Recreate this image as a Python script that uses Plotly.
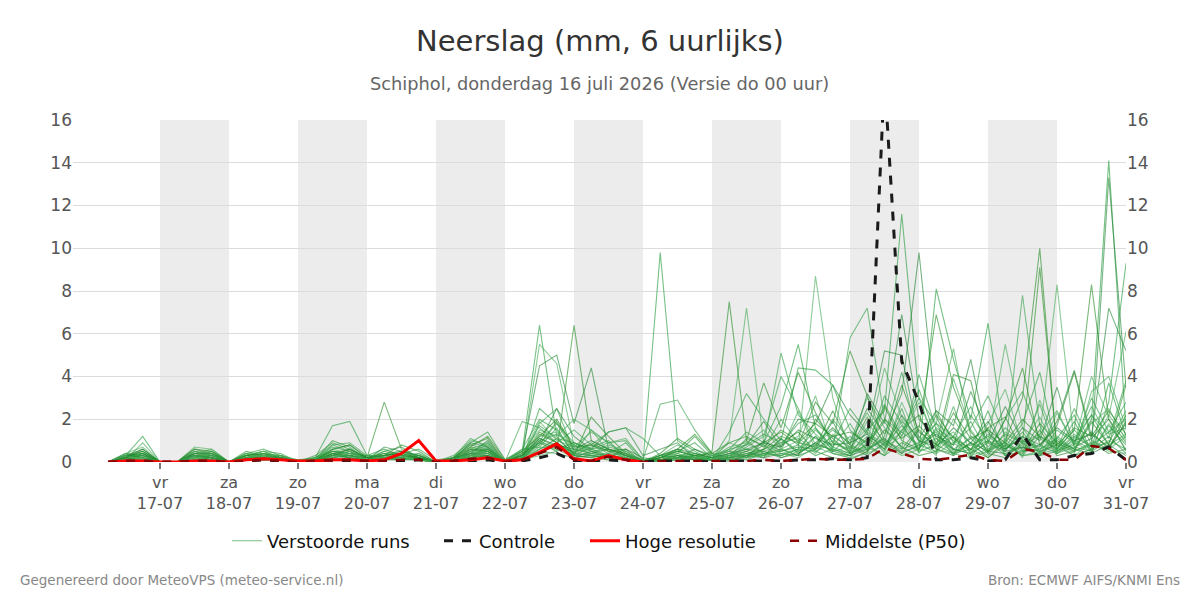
import plotly.graph_objects as go
import pandas as pd

# ---------------- data ----------------
start_time = "2026-07-16 06:00"
n_steps = 60

day_ticks = ["2026-07-%02d" % d for d in range(17, 32)]
day_names = ["vr", "za", "zo", "ma", "di", "wo", "do", "vr", "za", "zo", "ma", "di", "wo", "do", "vr"]
day_labels = ["17-07", "18-07", "19-07", "20-07", "21-07", "22-07", "23-07", "24-07",
              "25-07", "26-07", "27-07", "28-07", "29-07", "30-07", "31-07"]
shade_days = [("2026-07-17", "2026-07-18"), ("2026-07-19", "2026-07-20"), ("2026-07-21", "2026-07-22"),
              ("2026-07-23", "2026-07-24"), ("2026-07-25", "2026-07-26"), ("2026-07-27", "2026-07-28"),
              ("2026-07-29", "2026-07-30")]

members = [
    [0,0.3,1.2,0,0,0.2,0.3,0,0.1,0.3,0.2,0.1, 0.2,1.7,1.9,0.3,0.2,0.1,0.3,0, 0.1,0.3,0.5,0, 0.5,6.4,1.2,0.3,0.2,0.4,0.1,0,
     0.2,0.5,0.3,0.1,0,0.3,0.8,0.2,0.5,1.2,0.4, 0.3,1.5,2.4,11.6,3.0,0.8,1.2,0.2,0.5,0.9,0.3,0.4,1.1,0.6,2.0,14.1,1.5],
    [0,0.2,0.4,0,0,0.5,0.3,0,0.3,0.5,0.2,0, 0.1,0.4,0.3,0.2,2.8,0.6,0.2,0, 0.2,0.4,0.6,0.1, 0.3,0.9,0.5,6.4,1.0,0.6,0.4,0,
     0.1,0.3,0.2,0.5,7.5,1.0,0.4,0.6,0.3,2.0,1.1, 0.4,0.8,0.3,1.5,2.2,0.6,0.4,0.9,0.2,1.0,3.0,10.0,0.5,0.8,1.4,0.6,2.2],
    [0,0.1,0.9,0,0,0.7,0.6,0,0.2,0.4,0.3,0.1, 0,0.8,0.5,0.1,0.3,0.2,0.4,0, 0,0.6,0.9,0, 0.2,5.5,4.6,0.8,0.3,0.2,0.1,0,
     0.3,0.6,0.2,0.1,1.0,7.2,0.9,0.4,0.6,8.7,3.0, 0.5,1.2,0.8,2.0,0.6,1.5,0.4,0.2,1.6,0.3,0.8,1.2,8.3,0.9,0.5,1.8,0.6],
    [0,0.3,0.6,0,0,0.3,0.2,0,0.2,0.2,0.1,0, 0.1,0.3,0.2,0.1,0.5,0.7,0.2,0, 0.1,0.2,0.3,0, 0.4,4.5,5.0,1.8,4.4,0.6,0.3,0.1,
     0,0.2,0.1,0.1,0.3,0.5,0.2,1.1,0.4,0.9,1.6, 0.8,2.5,1.3,3.2,9.8,2.1,0.6,1.1,0.4,0.2,0.9,0.3,0.5,1.2,0.7,13.3,3.5],
    [0,0.4,0.3,0,0,0.2,0.4,0,0.4,0.6,0.3,0, 0.2,0.6,0.8,0.2,0.3,0.4,0.6,0.1, 0.2,1.1,0.7,0, 0.1,1.8,2.5,0.5,0.6,0.9,1.0,0.1,
     2.7,2.9,1.5,0.4,0.2,1.1,0.8,5.1,2.2,1.3,0.6, 5.8,7.2,2.0,1.4,0.8,0.5,2.6,0.3,1.0,0.6,7.8,1.7,0.4,1.1,2.2,0.8,1.3],
    [0,0.2,0.5,0,0,0.4,0.5,0,0.3,0.4,0.2,0, 0.1,0.5,0.4,0.3,0.6,0.3,0.2,0, 0.3,0.9,1.4,0.1, 0.6,2.0,1.5,0.4,1.5,0.9,0.3,0,
     0.2,0.4,1.2,0.3,0.6,1.4,0.9,2.6,5.5,1.6,0.5, 1.2,0.6,3.1,1.8,0.5,8.1,4.8,2.0,6.5,0.8,0.3,1.2,0.6,1.9,0.4,2.8,9.3],
    [0,0.3,0.2,0,0,0.6,0.4,0,0.5,0.3,0.2,0, 0.3,0.9,0.6,0.2,0.4,0.5,0.2,0, 0.1,0.7,0.5,0, 0.2,1.3,0.9,0.3,2.1,1.2,0.4,0,
     0.4,1.1,0.6,0.2,0.5,1.0,3.7,1.6,4.2,2.3,0.9, 0.6,2.1,0.9,3.6,1.4,0.8,4.1,3.8,0.5,1.3,0.9,9.1,0.6,1.5,8.3,2.0,0.9],
    [0,0.2,0.4,0,0,0.1,0.2,0,0.2,0.3,0.3,0, 0.1,0.5,0.3,0.1,0.2,0.3,0.1,0, 0.1,0.5,0.8,0, 0.3,1.9,1.0,0.7,1.4,0.9,1.1,0.1,
     0.3,0.8,0.4,0.2,0.9,0.6,0.3,0.8,1.2,3.1,0.5, 0.7,1.6,0.4,2.8,1.0,1.8,5.3,1.2,0.9,5.5,1.6,0.5,2.3,0.8,4.0,2.1,6.1],
    [0,0.3,0.3,0,0,0.3,0.2,0,0.1,0.4,0.2,0, 0,0.4,0.3,0.1,0.7,0.5,0.3,0, 0.2,0.4,1.0,0, 0.4,0.9,2.5,1.2,0.6,1.4,1.6,0.3,
     0.6,0.9,0.2,0.1,0.4,0.8,1.9,0.7,2.0,1.8,3.6, 2.2,1.3,5.2,5.0,1.1,2.4,1.7,4.8,0.9,2.6,1.0,0.7,1.9,4.3,1.2,7.2,5.2],
    [0,0.1,0.2,0,0,0.2,0.3,0,0.2,0.2,0.1,0, 0.1,0.3,0.2,0.1,0.3,0.2,0.1,0, 0,0.3,0.6,0, 0.2,1.1,0.7,0.5,0.8,1.4,1.6,1.1,
     0.3,0.5,0.9,0.2,0.3,0.7,1.2,4.0,2.5,0.8,1.5, 0.9,3.0,1.6,0.7,4.1,1.5,0.8,1.9,0.4,2.0,3.3,1.1,0.6,2.5,0.8,1.4,2.8],
    [0,0.2,0.1,0,0,0.3,0.1,0,0.3,0.5,0.4,0, 0.2,0.7,0.5,0.1,0.2,0.3,0.2,0, 0.1,0.2,0.4,0, 0.1,2.5,1.8,0.9,0.5,0.3,0.2,0,
     0.1,0.2,0.3,0.1,1.4,3.2,2.0,1.0,4.4,4.3,3.6, 1.5,0.8,2.7,1.2,3.4,1.1,0.6,0.4,1.3,0.7,1.8,4.2,0.5,1.0,0.6,3.7,1.2],
    [0,0.3,0.5,0,0,0.4,0.3,0,0.2,0.3,0.3,0, 0.1,0.4,0.6,0.2,0.3,0.8,0.5,0, 0.2,0.8,1.1,0, 0.3,0.8,1.9,0.6,0.4,0.6,0.4,0.1,
     0.2,0.6,1.3,0.4,0.2,0.5,0.9,1.4,0.8,2.8,1.8, 5.2,3.1,1.0,0.6,1.6,6.9,3.5,1.4,0.5,2.0,4.4,0.8,1.7,4.2,1.0,0.6,1.9],
    [0,0.4,0.7,0,0,0.2,0.1,0,0.3,0.2,0.1,0, 0.1,0.2,0.4,0.3,0.2,0.1,0.3,0, 0,0.3,0.3,0, 0.5,1.5,1.2,2.0,1.5,0.5,0.3,0,
     0.3,0.4,0.1,0.2,0.1,0.9,1.5,0.6,0.3,1.2,0.4, 0.2,0.9,4.4,2.1,1.0,0.3,3.9,1.5,0.4,1.1,0.2,2.9,0.9,0.4,3.3,4.0,1.6],
    [0,0.2,0.2,0,0,0.1,0.2,0,0.1,0.3,0.2,0, 0,0.3,0.5,0.2,0.1,0.4,0.2,0, 0.1,0.5,0.6,0, 0.1,0.6,1.1,0.4,0.3,0.2,0.6,0.2,
     0.1,0.2,0.6,0.3,0.5,0.2,1.0,0.5,0.7,0.6,1.9, 0.4,3.2,1.8,6.9,2.0,1.2,0.8,3.3,1.4,0.5,1.6,1.0,3.5,0.7,1.1,2.0,0.5],
    [0,0.1,0.4,0,0,0.5,0.4,0,0.1,0.1,0.2,0, 0.2,0.5,0.3,0.2,0.5,0.3,0.2,0, 0.2,0.6,0.4,0, 1.9,1.6,0.9,1.5,0.8,0.4,0.9,0,
     0,0.1,0.3,0.2,0.4,0.3,0.6,2.0,0.9,1.6,0.7, 1.8,0.5,1.2,4.2,0.9,1.4,0.3,2.2,1.0,0.6,1.2,0.4,1.5,0.9,2.6,1.1,3.8],
    [0,0.3,0.3,0,0,0.2,0.5,0,0.4,0.3,0.2,0, 0.1,1.0,0.7,0.1,0.2,0.2,0.1,0, 0.1,0.4,0.5,0, 0.6,0.7,1.6,0.3,0.7,1.0,0.2,0,
     9.8,1.0,0.5,0.1,0.2,0.4,0.3,1.1,0.5,0.8,0.6, 0.3,1.1,0.6,2.5,0.4,1.6,1.0,0.5,2.4,0.3,1.0,0.6,1.1,2.2,0.5,1.7,0.8],
    [0,0.2,0.1,0,0,0.3,0.2,0,0.2,0.2,0.1,0, 0,0.4,0.2,0.1,0.1,0.2,0.1,0, 0,0.3,0.2,0, 0.1,0.4,0.8,0.3,0.2,0.1,0.2,0,
     0.1,0.2,0.1,0.1,0.3,0.2,0.6,0.9,1.4,0.5,0.2, 0.1,0.5,1.5,0.7,0.3,0.5,1.2,0.6,0.2,0.8,0.4,1.5,0.3,0.5,0.9,0.4,0.6],
    [0,0.3,0.2,0,0,0.4,0.6,0,0.3,0.5,0.2,0, 0.1,0.6,0.4,0.2,0.4,0.3,0.4,0, 0.2,1.0,0.8,0.1, 0.2,1.2,1.4,0.6,0.4,0.8,0.5,0,
     0.2,0.3,0.4,0.2,0.7,0.9,0.4,0.5,2.4,0.6,1.0, 0.5,1.9,0.7,1.2,2.8,0.9,1.4,0.4,1.8,3.4,0.8,0.3,1.2,0.6,1.8,2.5,1.0],
    [0,0.1,0.3,0,0,0.2,0.1,0,0.1,0.1,0.1,0, 0.1,0.2,0.1,0.1,0.1,0.1,0.1,0, 0,0.2,0.3,0, 0.1,0.5,0.4,0.2,0.3,0.2,0.1,0,
     0.1,0.1,0.2,0.1,0.1,0.3,0.2,0.4,0.3,0.6,1.2, 0.7,0.3,0.9,0.4,1.5,0.6,0.3,0.9,0.5,0.4,0.7,0.5,0.8,0.3,0.6,1.2,0.4],
    [0,0.2,0.4,0,0,0.3,0.3,0,0.2,0.4,0.3,0, 0.2,0.8,0.9,0.3,0.3,0.4,0.3,0, 0.1,0.5,0.7,0, 0.4,1.0,1.3,0.8,0.5,0.6,0.3,0,
     0.2,0.5,0.3,0.2,0.3,0.6,0.5,0.8,1.8,2.2,0.9, 2.5,1.4,0.8,1.7,0.6,2.4,0.9,1.6,3.1,1.2,0.6,2.7,0.4,0.9,2.2,1.3,1.6],
    [0,0.3,0.2,0,0,0.1,0.1,0,0.2,0.3,0.2,0, 0.1,0.3,0.3,0.1,0.2,0.2,0.2,0, 0.1,0.4,0.4,0, 0.2,0.7,0.6,0.9,0.6,0.3,0.2,0,
     0,0.2,0.2,0.1,0.2,0.1,0.4,0.3,0.6,1.5,0.7, 0.4,0.8,1.9,0.6,0.9,1.8,0.5,0.8,1.2,0.6,1.4,0.4,0.6,1.5,0.7,0.9,2.4],
    [0,0.2,0.3,0,0,0.4,0.2,0,0.3,0.2,0.2,0, 0.1,0.5,0.4,0.2,0.3,0.4,0.2,0, 0.1,0.6,0.5,0, 0.3,1.4,0.9,0.4,0.9,0.5,0.2,0,
     0.1,0.3,0.2,0.1,0.2,0.4,0.6,1.2,0.9,0.7,2.4, 0.8,0.4,2.6,1.0,0.6,2.2,1.1,0.6,1.6,2.1,0.5,1.8,0.9,0.5,1.9,0.8,3.6],
    [0,0.2,0.2,0,0,0.2,0.4,0,0.2,0.3,0.1,0, 0,0.3,0.5,0.1,0.3,0.2,0.1,0, 0.1,0.3,0.9,0, 0.2,0.8,1.8,0.5,0.3,0.4,0.3,0,
     0.1,0.4,0.2,0.3,0.5,0.4,0.2,0.6,1.0,0.4,1.3, 0.6,1.0,0.5,1.9,1.2,0.4,2.0,0.8,0.3,1.4,0.9,2.1,0.5,1.3,0.7,2.2,1.1],
    [0,0.3,0.4,0,0,0.3,0.2,0,0.1,0.2,0.2,0, 0.1,0.2,0.3,0.2,0.1,0.3,0.2,0, 0,0.4,0.3,0, 0.1,1.0,0.6,0.2,0.5,0.2,0.1,0,
     0.2,0.3,0.1,0.1,0.2,0.3,0.5,0.2,0.4,0.9,0.5, 0.3,0.6,1.1,0.4,0.8,1.3,0.6,0.4,0.9,0.5,0.7,0.3,1.0,0.6,0.4,0.8,0.3],
    [0,0.4,0.3,0,0,0.5,0.3,0,0.4,0.2,0.3,0, 0.2,0.5,0.4,0.3,0.2,0.4,0.3,0, 0.2,0.8,0.6,0, 0.3,1.7,1.1,0.9,0.6,0.7,0.5,0,
     0.3,0.2,0.4,0.2,0.6,0.8,1.3,0.9,1.1,0.6,2.0, 1.0,2.3,0.8,1.4,3.0,1.8,1.2,2.6,0.7,1.6,0.9,1.3,2.4,0.8,3.0,1.4,2.0],
    [0,0.1,0.2,0,0,0.1,0.3,0,0.1,0.2,0.1,0, 0.1,0.4,0.2,0.1,0.2,0.1,0.2,0, 0.1,0.2,0.5,0, 0.2,0.6,0.9,0.4,0.3,0.2,0.1,0,
     0.1,0.2,0.3,0.1,0.1,0.2,0.4,0.5,0.8,0.3,0.6, 0.4,0.7,0.3,0.9,0.5,0.8,0.4,0.6,1.0,0.3,0.5,0.8,0.4,0.7,0.5,1.0,0.6],
    [0,0.2,0.5,0,0,0.6,0.5,0,0.3,0.4,0.2,0, 0.1,0.6,0.8,0.2,0.4,0.3,0.2,0, 0.2,0.7,1.2,0.1, 0.5,1.2,2.0,0.7,0.8,0.5,0.6,0,
     0.2,0.5,0.3,0.4,0.9,1.2,0.7,1.5,1.0,1.8,1.2, 1.4,0.9,2.0,1.1,1.7,0.8,2.3,1.1,1.5,0.9,2.0,1.2,0.8,1.6,1.2,2.4,1.3],
    [0,0.3,0.1,0,0,0.2,0.1,0,0.2,0.3,0.3,0, 0,0.2,0.4,0.1,0.2,0.3,0.1,0, 0.1,0.3,0.2,0, 0.1,0.3,0.5,0.8,0.4,0.3,0.2,0,
     0,0.1,0.2,0.1,0.3,0.2,0.3,0.4,0.2,0.7,0.4, 0.2,0.4,0.8,0.3,0.6,0.4,0.9,0.3,0.6,0.8,0.3,0.5,0.7,0.3,0.9,0.5,0.4],
    [0,0.2,0.6,0,0,0.4,0.4,0,0.2,0.1,0.1,0, 0.1,0.3,0.6,0.2,0.3,0.5,0.3,0, 0.1,0.9,0.7,0, 0.3,1.1,0.8,0.6,1.0,0.6,0.3,0,
     0.3,0.6,0.4,0.2,0.4,0.6,0.9,0.7,1.5,1.1,0.8, 0.9,1.3,0.6,2.2,1.0,0.7,1.6,0.9,1.9,0.6,1.2,0.8,1.6,1.0,1.3,0.7,1.8],
    [0,0.1,0.1,0,0,0.3,0.2,0,0.1,0.2,0.2,0, 0.1,0.3,0.3,0.1,0.2,0.2,0.1,0, 0,0.3,0.6,0, 0.2,0.9,0.7,0.3,0.4,0.3,0.4,0,
     0.1,0.2,0.2,0.1,0.2,0.3,0.4,0.3,0.6,0.5,0.9, 0.5,0.6,1.0,0.5,0.7,1.1,0.4,1.2,0.6,0.9,0.5,0.6,1.0,0.5,0.8,0.6,1.2],
]

controle = [0,0.05,0.05,0,0,0.05,0.05,0,0.05,0.1,0.05,0, 0.05,0.05,0.05,0.05,0.05,0.05,0.1,0, 0.05,0.05,0.1,0,
            0.05,0.2,0.4,0.05,0.05,0.1,0.05,0, 0.05,0.05,0.05,0,0.05,0.05,0.05,0.05,0.1,0.1,0.15,
            0.1,0.2,18.0,4.7,2.8,0.1,0.1,0.2,0.05,0.1,1.3,0.1,0.1,0.3,0.4,0.7,0.1]
hres = [0,0.05,0.05,0,0,0.05,0.05,0,0.1,0.15,0.1,0.05, 0.05,0.1,0.1,0.05,0.1,0.4,1.0,0.05,
        0.05,0.1,0.2,0.05, 0.1,0.45,0.85,0.15,0.05,0.3,0.1,0.0]
p50 = [0,0.05,0.05,0,0,0.05,0.05,0,0.05,0.1,0.05,0, 0.05,0.1,0.1,0.05,0.05,0.1,0.1,0,
       0.05,0.15,0.2,0, 0.1,0.4,0.7,0.1,0.05,0.25,0.1,0, 0.05,0.05,0.05,0.02,0.05,0.05,0.1,0.05,0.1,0.15,0.1,
       0.1,0.15,0.65,0.4,0.15,0.1,0.2,0.35,0.1,0.05,0.6,0.5,0.1,0.1,0.75,0.65,0.1]

legend_widths = [167, 101, 155, 142]

# ---------------- figure ----------------
times = pd.date_range(start_time, periods=n_steps, freq="6h")

member_colors = ["rgba(46,160,67,0.65)", "rgba(34,139,34,0.6)", "rgba(80,175,95,0.65)",
                 "rgba(30,130,50,0.6)", "rgba(60,165,80,0.65)"]

fig = go.Figure()
for k, vals in enumerate(members):
    fig.add_trace(go.Scatter(
        x=times, y=vals, mode="lines",
        line=dict(color=member_colors[k % len(member_colors)], width=1.1),
        name="Verstoorde runs", legendgroup="ens", showlegend=(k == 0),
        legendwidth=legend_widths[0], hoverinfo="skip"))

fig.add_trace(go.Scatter(x=times, y=controle, mode="lines", name="Controle",
                         legendwidth=legend_widths[1],
                         line=dict(color="#1a1a1a", width=3, dash="dash")))
fig.add_trace(go.Scatter(x=times[:len(hres)], y=hres, mode="lines", name="Hoge resolutie",
                         legendwidth=legend_widths[2],
                         line=dict(color="#ff0000", width=3)))
fig.add_trace(go.Scatter(x=times, y=p50, mode="lines", name="Middelste (P50)",
                         legendwidth=legend_widths[3],
                         line=dict(color="#8b0000", width=2.5, dash="dash")))
# invisible trace to display right axis
fig.add_trace(go.Scatter(x=[times[0]], y=[0], yaxis="y2", mode="lines",
                         line=dict(width=0), showlegend=False, hoverinfo="skip"))

shapes = []
for a, b in shade_days:
    shapes.append(dict(type="rect", xref="x", yref="paper", x0=a, x1=b, y0=0, y1=1,
                       fillcolor="#ececec", line=dict(width=0), layer="below"))

ticktext = [f"{n}<br>{l}" for n, l in zip(day_names, day_labels)]

fig.update_layout(
    width=1200, height=600,
    margin=dict(l=73, r=74, t=120, b=138),
    paper_bgcolor="white", plot_bgcolor="white",
    font=dict(family="DejaVu Sans", color="#555"),
    title=dict(text="Neerslag (mm, 6 uurlijks)", x=0.5, xanchor="center",
               y=1 - 41 / 600, yanchor="middle", yref="container",
               font=dict(size=29, color="#333")),
    shapes=shapes,
    xaxis=dict(type="date", range=["2026-07-15 17:45", "2026-07-31 00:00"],
               tickvals=day_ticks, ticktext=ticktext, showgrid=False, zeroline=False,
               ticks="outside", ticklen=6, tickwidth=2, tickcolor="#777",
               tickfont=dict(size=16, color="#555"), showline=False),
    yaxis=dict(range=[0, 16], dtick=2, showgrid=True, gridcolor="#dcdcdc", gridwidth=1,
               zeroline=False, tickfont=dict(size=17, color="#555"), ticks=""),
    yaxis2=dict(range=[0, 16], dtick=2, overlaying="y", side="right", showgrid=False,
                zeroline=False, tickfont=dict(size=17, color="#555"), ticks=""),
    legend=dict(orientation="h", x=0.5, xanchor="center", y=-(541 - 462) / 342,
                yanchor="middle", font=dict(size=18, color="#111"), itemwidth=30,
                bgcolor="rgba(0,0,0,0)"),
    annotations=[
        dict(text="Schiphol, donderdag 16 juli 2026 (Versie do 00 uur)", xref="paper", yref="paper",
             x=0.5, y=1 + (120 - 83) / 342, xanchor="center", yanchor="middle", showarrow=False,
             font=dict(size=17.8, color="#666")),
        dict(text="Gegenereerd door MeteoVPS (meteo-service.nl)", xref="paper", yref="paper",
             x=-55 / 1053, y=-(580 - 462) / 342, xanchor="left", yanchor="middle", showarrow=False,
             font=dict(size=13.5, color="#888")),
        dict(text="Bron: ECMWF AIFS/KNMI Ens", xref="paper", yref="paper",
             x=1 + 56 / 1053, y=-(580 - 462) / 342, xanchor="right", yanchor="middle", showarrow=False,
             font=dict(size=13.5, color="#888")),
    ],
    hovermode=False,
)

fig.write_html("out.html")
